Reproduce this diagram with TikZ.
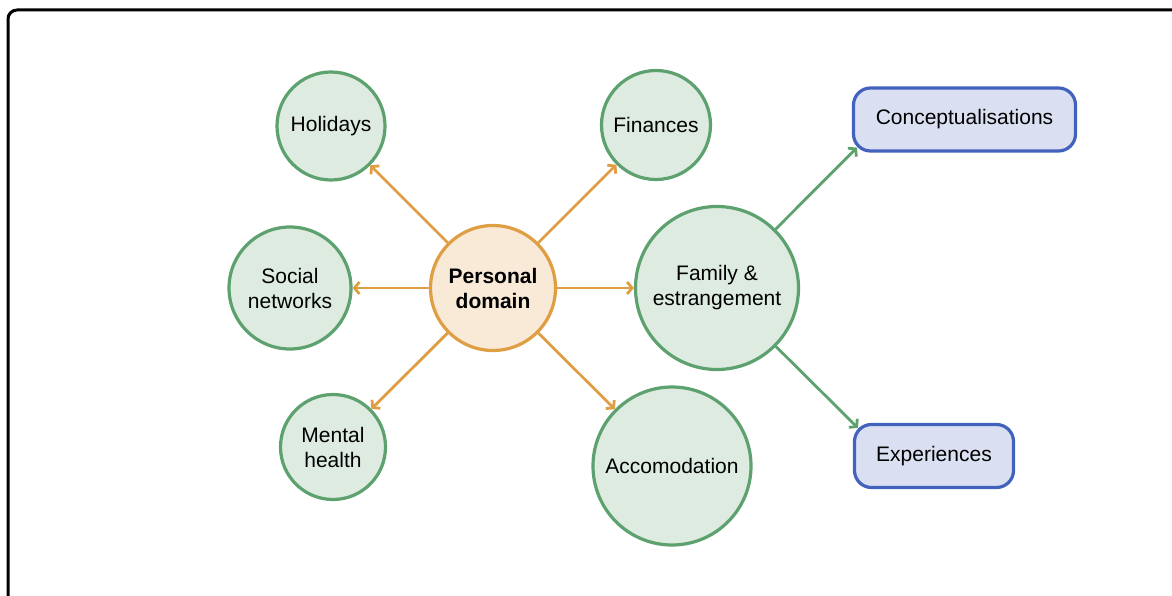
\documentclass[tikz,border=0pt]{standalone}
\usepackage{fontspec}
\setmainfont{Liberation Sans}
\usetikzlibrary{arrows.meta}
\definecolor{leaffill}{HTML}{DEEBE0}
\definecolor{leafline}{HTML}{5CA16E}
\definecolor{hubfill}{HTML}{F9E9D7}
\definecolor{hubline}{HTML}{E09E44}
\definecolor{boxfill}{HTML}{DAE0F1}
\definecolor{boxline}{HTML}{4262BE}
\begin{document}
\begin{tikzpicture}[x=1pt, y=-1pt,
		every node/.style={font=\fontsize{21}{25}\selectfont, align=center},
		leaf/.style={circle, draw=leafline, fill=leaffill, line width=3.2pt, inner sep=0pt},
		hub/.style={circle, draw=hubline, fill=hubfill, line width=3.2pt, inner sep=0pt, font=\fontsize{21}{25}\selectfont\bfseries},
		box/.style={draw=boxline, fill=boxfill, line width=3.2pt, rounded corners=17pt, inner sep=0pt, minimum height=63pt},
		hubarrow/.style={draw=hubline, line width=2.8pt, -{Straight Barb[length=5pt,width=12pt]}},
		leafarrow/.style={draw=leafline, line width=2.8pt, -{Straight Barb[length=5pt,width=12pt]}}]
			\clip (0, 0) rectangle (1172, 596);
			\draw [line width=3pt, rounded corners=9pt] (8, 10) rectangle (1185, 610);

			\node [hub, minimum size=125pt] (personal) at (493, 288) {Personal\\domain};

			\node [leaf, minimum size=108pt] (holidays) at (331, 126) {Holidays};
			\node [leaf, minimum size=109pt] (finances) at (656, 125) {Finances};
			\node [leaf, minimum size=122pt] (social) at (290, 288) {Social\\networks};
			\node [leaf, minimum size=105pt] (mental) at (333, 447) {Mental\\health};
			\node [leaf, minimum size=158pt] (accom) at (672, 466) {Accomodation};
			\node [leaf, minimum size=163pt] (family) at (717, 288) {Family \&\\estrangement};

			\node [box, minimum width=222pt] (concepts) at (964.5, 119.5) {Conceptualisations};
			\node [box, minimum width=159pt] (experiences) at (934, 456) {Experiences};

			\coordinate (conceptsin) at ([shift={(5, -5)}]concepts.south west);
			\coordinate (experiencesin) at ([shift={(5, 5)}]experiences.north west);

			\draw [hubarrow] (personal) -- (holidays);
			\draw [hubarrow] (personal) -- (finances);
			\draw [hubarrow] (personal) -- (social);
			\draw [hubarrow] (personal) -- (mental);
			\draw [hubarrow] (personal) -- (accom);
			\draw [hubarrow] (personal) -- (family);

			\draw [leafarrow] (family) -- (conceptsin);
			\draw [leafarrow] (family) -- (experiencesin);
		\end{tikzpicture}
\end{document}
